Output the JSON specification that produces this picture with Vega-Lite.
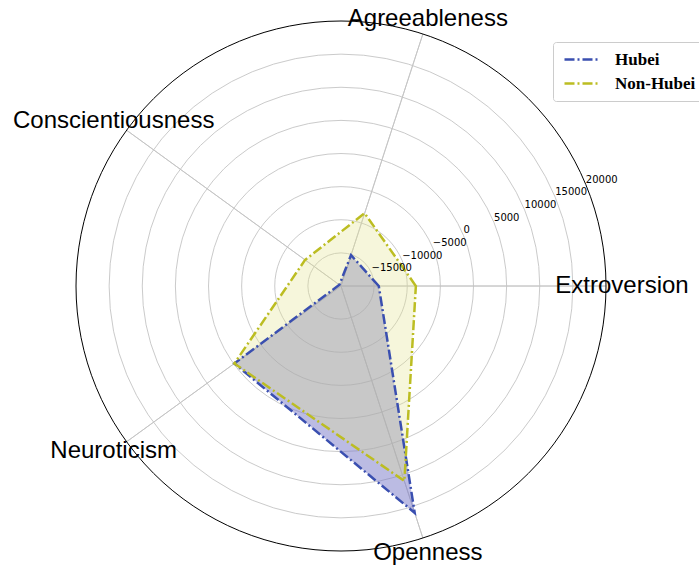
{
  "$schema": "https://vega.github.io/schema/vega-lite/v6.json",
  "width": 530,
  "height": 530,
  "autosize": "none",
  "padding": {"left": 76, "top": 21, "right": 93, "bottom": 15},
  "background": "white",
  "config": {"view": {"stroke": null}},
  "datasets": {
    "scores": [
      {"trait": "Extroversion", "i": 0, "group": "Hubei", "value": -14300},
      {"trait": "Agreeableness", "i": 1, "group": "Hubei", "value": -15100},
      {"trait": "Conscientiousness", "i": 2, "group": "Hubei", "value": -19700},
      {"trait": "Neuroticism", "i": 3, "group": "Hubei", "value": -100},
      {"trait": "Openness", "i": 4, "group": "Hubei", "value": 16000},
      {"trait": "Extroversion", "i": 0, "group": "Non-Hubei", "value": -8700},
      {"trait": "Agreeableness", "i": 1, "group": "Non-Hubei", "value": -8450},
      {"trait": "Conscientiousness", "i": 2, "group": "Non-Hubei", "value": -13300},
      {"trait": "Neuroticism", "i": 3, "group": "Non-Hubei", "value": -100},
      {"trait": "Openness", "i": 4, "group": "Non-Hubei", "value": 10950}
    ],
    "traits": [
      {"trait": "Extroversion", "i": 0},
      {"trait": "Agreeableness", "i": 1},
      {"trait": "Conscientiousness", "i": 2},
      {"trait": "Neuroticism", "i": 3},
      {"trait": "Openness", "i": 4}
    ],
    "rings": [
      {"r": -15000}, {"r": -10000}, {"r": -5000}, {"r": 0},
      {"r": 5000}, {"r": 10000}, {"r": 15000}, {"r": 20000}
    ]
  },
  "layer": [
    {
      "data": {"name": "rings"},
      "transform": [{"filter": "datum.r < 20000"}],
      "mark": {"type": "arc", "filled": false, "fill": null, "stroke": "#c4c4c4", "strokeWidth": 0.9, "theta": 0, "theta2": 6.4},
      "encoding": {
        "radius": {"field": "r", "type": "quantitative", "scale": {"type": "linear", "domain": [-20000, 20000], "range": [0, 265], "zero": false}},
        "radius2": {"datum": -20000}
      }
    },
    {
      "data": {"name": "traits"},
      "mark": {"type": "arc", "filled": false, "fill": null, "stroke": "#c4c4c4", "strokeWidth": 0.9},
      "encoding": {
        "theta": {"field": "i", "type": "quantitative", "stack": null, "scale": {"domain": [0, 5], "range": [1.5707963, -4.712389]}},
        "theta2": {"field": "i"},
        "radius": {"datum": 20000, "type": "quantitative"},
        "radius2": {"datum": -20000}
      }
    },
    {
      "data": {"name": "rings"},
      "transform": [{"filter": "datum.r == 20000"}],
      "mark": {"type": "arc", "filled": false, "fill": null, "stroke": "#000000", "strokeWidth": 1, "theta": 0, "theta2": 6.4},
      "encoding": {
        "radius": {"field": "r", "type": "quantitative"},
        "radius2": {"datum": -20000}
      }
    },
    {
      "data": {"name": "scores"},
      "transform": [
        {"filter": "datum.group == 'Hubei'"},
        {"calculate": "(datum.value + 20000) * cos(datum.i * 2 * PI / 5)", "as": "px"},
        {"calculate": "(datum.value + 20000) * sin(datum.i * 2 * PI / 5)", "as": "py"}
      ],
      "mark": {"type": "line", "interpolate": "linear-closed", "fill": "#7878c8", "fillOpacity": 0.5, "strokeOpacity": 0},
      "encoding": {
        "x": {"field": "px", "type": "quantitative", "scale": {"domain": [-40000, 40000], "nice": false}, "axis": null},
        "y": {"field": "py", "type": "quantitative", "scale": {"domain": [-40000, 40000], "nice": false}, "axis": null},
        "order": {"field": "i"}
      }
    },
    {
      "data": {"name": "scores"},
      "transform": [
        {"filter": "datum.group == 'Non-Hubei'"},
        {"calculate": "(datum.value + 20000) * cos(datum.i * 2 * PI / 5)", "as": "px"},
        {"calculate": "(datum.value + 20000) * sin(datum.i * 2 * PI / 5)", "as": "py"}
      ],
      "mark": {"type": "line", "interpolate": "linear-closed", "fill": "#e4e490", "fillOpacity": 0.32, "strokeOpacity": 0},
      "encoding": {
        "x": {"field": "px", "type": "quantitative", "axis": null},
        "y": {"field": "py", "type": "quantitative", "axis": null},
        "order": {"field": "i"}
      }
    },
    {
      "data": {"name": "scores"},
      "transform": [
        {"calculate": "(datum.value + 20000) * cos(datum.i * 2 * PI / 5)", "as": "px"},
        {"calculate": "(datum.value + 20000) * sin(datum.i * 2 * PI / 5)", "as": "py"}
      ],
      "mark": {"type": "line", "interpolate": "linear-closed", "strokeWidth": 2.5, "strokeDash": [10, 3, 2, 3]},
      "encoding": {
        "x": {"field": "px", "type": "quantitative", "axis": null},
        "y": {"field": "py", "type": "quantitative", "axis": null},
        "order": {"field": "i"},
        "color": {
          "field": "group", "type": "nominal",
          "scale": {"domain": ["Non-Hubei", "Hubei"], "range": ["#bcbd22", "#3a4fb0"]},
          "legend": {
            "title": null,
            "orient": "none",
            "legendX": 477,
            "legendY": 21,
            "values": ["Hubei", "Non-Hubei"],
            "symbolType": "M-1,0H5",
            "symbolSize": 144,
            "symbolStrokeWidth": 2.5,
            "symbolDash": [10, 3, 2, 3],
            "labelFont": "Liberation Serif",
            "labelFontWeight": "bold",
            "labelFontSize": 17,
            "labelColor": "#000000",
            "labelOffset": 36,
            "rowPadding": 6,
            "padding": 9,
            "fillColor": "white",
            "strokeColor": "#cccccc",
            "cornerRadius": 3
          }
        }
      }
    },
    {
      "data": {"name": "rings"},
      "mark": {"type": "text", "align": "left", "baseline": "bottom", "font": "DejaVu Sans", "fontSize": 10, "color": "#000000"},
      "encoding": {
        "theta": {"datum": 0.3125, "type": "quantitative", "stack": null},
        "radius": {"field": "r", "type": "quantitative"},
        "text": {"field": "r", "type": "quantitative", "format": "d"}
      }
    },
    {
      "data": {"name": "traits"},
      "mark": {"type": "text", "align": "center", "baseline": "middle", "font": "Liberation Sans", "fontSize": 24, "color": "#000000", "radius": 281},
      "encoding": {
        "theta": {"field": "i", "type": "quantitative", "stack": null},
        "text": {"field": "trait", "type": "nominal"}
      }
    }
  ]
}
